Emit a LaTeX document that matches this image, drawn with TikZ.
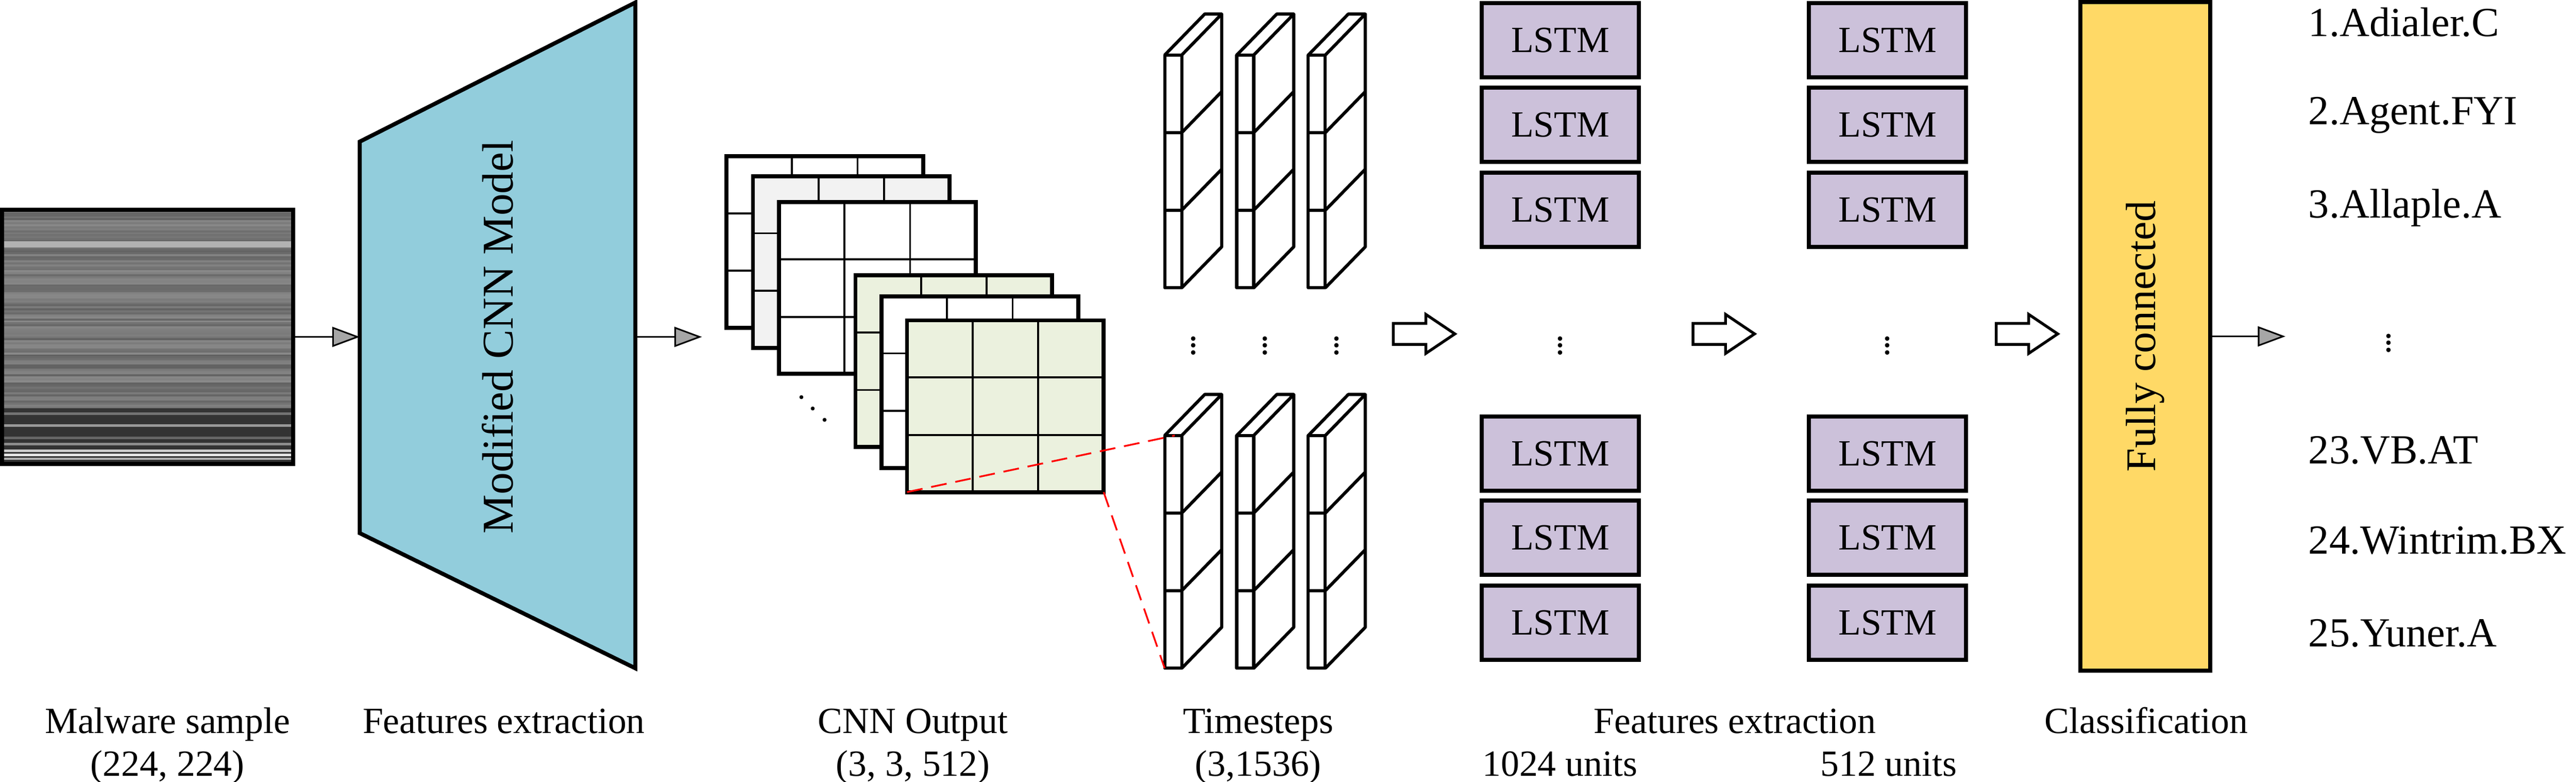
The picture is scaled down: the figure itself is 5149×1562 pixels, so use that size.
\documentclass[tikz,border=0pt]{standalone}
\usepackage{fontspec}
\setmainfont{Liberation Serif}
\usepackage{tikz}
\usetikzlibrary{arrows.meta}
\usetikzlibrary{calc}
\usetikzlibrary{positioning}
\usetikzlibrary{patterns}

\definecolor{cnnblue}{RGB}{146,205,220}
\definecolor{mapgreen}{RGB}{235,241,222}
\definecolor{mapgray}{RGB}{242,242,242}
\definecolor{lstmpurple}{RGB}{204,193,218}
\definecolor{fcyellow}{RGB}{255,217,102}

% one feature map of the CNN output
\newcommand{\fmap}[3]{%
  \fill[#3] (#1,#2) rectangle ++(393,343);
  \draw[line width=1.1pt] ($(#1,#2)+(131,0)$) -- ++(0,343) ($(#1,#2)+(262,0)$) -- ++(0,343)
    ($(#1,#2)+(0,114)$) -- ++(393,0) ($(#1,#2)+(0,229)$) -- ++(393,0);
  \draw[heavy] (#1,#2) rectangle ++(393,343);}

% one timestep column
\newcommand{\tstep}[2]{%
  \draw[tcol] (#1,#2) rectangle ++(34,465);
  \draw[tcol] (#1,#2) -- ++(80,-82) -- ++(34,0) -- ++(-80,82);
  \draw[tcol] ($(#1,#2)+(114,-82)$) -- ++(0,465) -- ++(-80,82);
  \foreach \k in {155,310}
    \draw[tcol] ($(#1,#2)+(0,\k)$) -- ++(34,0) -- ++(80,-82);}

% hollow block arrow
\newcommand{\hollowarrow}[2]{%
  \draw[line width=1.6pt, line join=miter, fill=white] (#1,#2) ++(0,-21) -- ++(65,0) -- ++(0,-18)
    -- ++(58,39) -- ++(-58,39) -- ++(0,-18) -- ++(-65,0) -- cycle;}

\begin{document}
\begin{tikzpicture}[
  x=0.01cm, y=-0.01cm,
  every node/.style={font=\fontsize{21}{25}\selectfont},
  heavy/.style = {line width=2.3pt},
  tcol/.style = {line width=1.8pt, line join=round},
  tip/.style = {line width=0.9pt, -{Triangle[length=0.55cm,width=0.4cm,fill=black!35]}},
  lstm/.style = {draw, heavy, fill=lstmpurple, minimum width=3.14cm, minimum height=1.48cm, inner sep=0pt},
  caption/.style = {align=center, anchor=base},
  cls/.style = {anchor=west, font=\fontsize{23.5}{28}\selectfont}
  ]
	\useasboundingbox (0,0) rectangle (5149,1562);

	% malware image
	\pgfmathsetseed{7}
	\foreach \r in {0,...,98}{
		\pgfmathsetmacro\g{38+16*rnd}
		\fill[white!\g!black] (4,{420+4*\r}) rectangle (585,{424+4*\r});
	}
	\fill[white!70!black] (4,482) rectangle (585,494);
	\fill[black!80] (4,816) rectangle (585,928);
	\foreach \yy/\c in {824/45,848/60,872/40,885/55,898/80,906/90,914/70}
		\fill[white!\c!black] (4,\yy) rectangle (585,{\yy+5});
	\node[draw, heavy, minimum width=5.81cm, minimum height=5.08cm, inner sep=0pt] (img) at (295,673) {};

	% CNN model
	\draw[heavy, fill=cnnblue] (719,283) -- (1270,5) -- (1270,1335) -- (719,1065) -- cycle;
	\coordinate (cnnL) at (719,673);
	\coordinate (cnnR) at (1270,673);
	\node[rotate=90, font=\fontsize{25}{30}\selectfont] (cnn) at (995,673) {Modified CNN Model};

	% CNN output
	\fmap{1452}{312}{white}
	\fmap{1505}{352}{mapgray}
	\fmap{1557}{404}{white}
	\fmap{1710}{550}{mapgreen}
	\fmap{1762}{592}{white}
	\fmap{1813}{640}{mapgreen}
	\coordinate (mapSW) at (1813,983);
	\coordinate (mapSE) at (2206,983);
	\coordinate (stack) at (1403,673);
	\node[rotate=-45] (ddots) at (1624,818) {$\cdots$};

	% timesteps
	\foreach \x in {2328,2472,2615}{
		\tstep{\x}{110}
		\tstep{\x}{870}
		\node[inner sep=0pt] (v\x) at ({\x+57},680) {$\vdots$};
	}
	\coordinate (tsTop) at (2348,870);
	\coordinate (tsBot) at (2328,1335);
	\draw[red, line width=1pt, dash pattern=on 9pt off 5pt] (mapSW) -- (tsTop) (mapSE) -- (tsBot);

	% LSTM layers
	\foreach \cx/\c in {3119/a,3773/b}{
		\foreach \cy/\n in {80/1,249/2,419/3,906/4,1074/5,1244/6}
			\node[lstm] (l\c\n) at (\cx,\cy) {LSTM};
		\node[inner sep=0pt] (vd\c) at (\cx,680) {$\vdots$};
	}

	% fully connected
	\node[draw, heavy, fill=fcyellow, minimum width=2.59cm, minimum height=13.35cm, inner sep=0pt] (fc) at (4288,672) {};
	\node[rotate=90, font=\fontsize{24}{28}\selectfont] at (fc.center) {Fully connected};

	\hollowarrow{2785}{667}
	\hollowarrow{3384}{667}
	\hollowarrow{3990}{667}

	\coordinate (out) at (4568,672);
	\draw[tip] (img.east) -- (cnnL);
	\draw[tip] (cnnR) -- (stack);
	\draw[tip] (fc.east) -- (out);

	% classes
	\foreach \cy/\t in {45/1.Adialer.C,230/2.Agent.FYI,415/3.Allaple.A,900/23.VB.AT,1080/24.Wintrim.BX,1265/25.Yuner.A}
		\node[cls] at (4602,\cy) {\t};
	\node[inner sep=0pt] (vcls) at (4775,675) {$\vdots$};

	% captions
	\node[caption] at (335,1465) {Malware sample};
	\node[caption] at (335,1550) {(224, 224)};
	\node[caption] at (1007,1465) {Features extraction};
	\node[caption] at (1825,1465) {CNN Output};
	\node[caption] at (1825,1550) {(3, 3, 512)};
	\node[caption] at (2515,1465) {Timesteps};
	\node[caption] at (2515,1550) {(3,1536)};
	\node[caption] at (3468,1465) {Features extraction};
	\node[caption] at (3118,1550) {1024 units};
	\node[caption] at (3775,1550) {512 units};
	\node[caption] at (4290,1465) {Classification};
\end{tikzpicture}
\end{document}
